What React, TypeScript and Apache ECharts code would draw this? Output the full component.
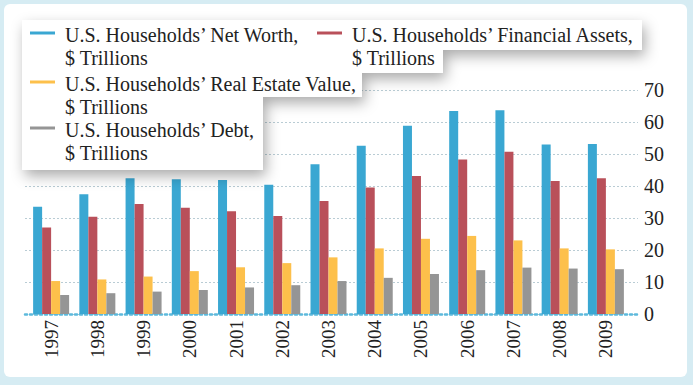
import React, { useEffect, useRef } from "react";
import * as echarts from "echarts";

const years = ["1997", "1998", "1999", "2000", "2001", "2002", "2003", "2004", "2005", "2006", "2007", "2008", "2009"];
const netWorth = [33.5, 37.4, 42.4, 42.1, 41.9, 40.4, 46.8, 52.6, 58.8, 63.4, 63.7, 53.0, 53.1];
const financialAssets = [27.0, 30.4, 34.4, 33.2, 32.1, 30.6, 35.3, 39.5, 43.1, 48.3, 50.7, 41.6, 42.4];
const realEstate = [10.3, 10.8, 11.7, 13.4, 14.6, 15.9, 17.7, 20.5, 23.5, 24.4, 23.0, 20.5, 20.2];
const debt = [5.9, 6.5, 7.0, 7.5, 8.3, 9.0, 10.3, 11.3, 12.5, 13.7, 14.5, 14.2, 14.0];
const yTicks = { min: 0, max: 70, interval: 10 };

const seriesNames = [
  "U.S. Households’ Net Worth,\n$ Trillions",
  "U.S. Households’ Financial Assets,\n$ Trillions",
  "U.S. Households’ Real Estate Value,\n$ Trillions",
  "U.S. Households’ Debt,\n$ Trillions",
];
const colors = ["#3aa7d2", "#b9505a", "#fdc04b", "#959595"];

const FONT = "'Liberation Serif', 'DejaVu Serif', serif";

export default function App() {
  const ref = useRef<HTMLDivElement>(null);
  useEffect(() => {
    if (!ref.current) return;
    const chart = echarts.init(ref.current, null, { renderer: "svg" });
    const values = [netWorth, financialAssets, realEstate, debt];
    const legendPos = [
      { mx: 30, my: 33, tx: 65, ty: 23 },
      { mx: 317, my: 33, tx: 352, ty: 23 },
      { mx: 30, my: 82, tx: 65, ty: 72 },
      { mx: 30, my: 128, tx: 65, ty: 118 },
    ];
    const legendGraphics: any[] = [
      {
        type: "polygon",
        z: 10,
        shape: {
          points: [
            [22, 20], [642, 20], [642, 50], [443, 50], [443, 73], [362, 73],
            [362, 97], [263, 97], [263, 170], [22, 170],
          ],
        },
        style: {
          fill: "#ffffff",
          shadowBlur: 14,
          shadowOffsetX: 3,
          shadowOffsetY: 6,
          shadowColor: "rgba(0,0,0,0.33)",
        },
      },
    ];
    seriesNames.forEach((name, i) => {
      const p = legendPos[i];
      legendGraphics.push({
        type: "line",
        z: 11,
        shape: { x1: p.mx, y1: p.my, x2: p.mx + 25, y2: p.my },
        style: { stroke: colors[i], lineWidth: 3 },
      });
      legendGraphics.push({
        type: "text",
        z: 11,
        x: p.tx,
        y: p.ty,
        style: {
          text: name,
          fill: "#222222",
          font: `20px ${FONT}`,
          lineHeight: 23,
          verticalAlign: "top",
          align: "left",
        },
      });
    });

    chart.setOption({
      animation: false,
      grid: [
        { left: 25, right: 55, top: 90, bottom: 71 },
        { left: 28, right: 64, top: 90, bottom: 71 },
      ],
      xAxis: [
        {
          gridIndex: 0,
          type: "value",
          min: 0,
          max: 1,
          axisLabel: { show: false },
          axisTick: { show: false },
          splitLine: { show: false },
          axisLine: { show: true, lineStyle: { color: "#5cb9dc", width: 2.5, type: [2, 3] } },
        },
        {
          gridIndex: 1,
          type: "category",
          data: years,
          axisLine: { show: false },
          axisTick: { show: false },
          axisLabel: {
            rotate: 90,
            margin: 6,
            color: "#222222",
            fontFamily: FONT,
            fontSize: 19,
          },
        },
      ],
      yAxis: [
        {
          gridIndex: 0,
          type: "value",
          position: "right",
          min: yTicks.min,
          max: yTicks.max,
          interval: yTicks.interval,
          axisLine: { show: false },
          axisTick: { show: false },
          axisLabel: { margin: 6, color: "#222222", fontFamily: FONT, fontSize: 20 },
          splitLine: { show: true, lineStyle: { color: "#b9ccd4", width: 1, type: [2, 2] } },
        },
        {
          gridIndex: 1,
          type: "value",
          min: yTicks.min,
          max: yTicks.max,
          interval: yTicks.interval,
          axisLine: { show: false },
          axisTick: { show: false },
          axisLabel: { show: false },
          splitLine: { show: false },
        },
      ],
      series: values.map((v, i) => ({
        type: "bar",
        name: seriesNames[i],
        xAxisIndex: 1,
        yAxisIndex: 1,
        data: v,
        barWidth: 9,
        barGap: "0%",
        itemStyle: { color: colors[i] },
      })),
      graphic: legendGraphics,
    });
    return () => chart.dispose();
  }, []);

  return (
    <div style={{ position: "fixed", left: 0, top: 0, width: 693, height: 385, background: "#d6ecf3" }}>
      <div
        style={{
          position: "absolute",
          left: 4,
          top: 4,
          width: 683,
          height: 373,
          background: "#ffffff",
          borderRadius: 6,
        }}
      />
      <div ref={ref} style={{ position: "absolute", left: 0, top: 0, width: 693, height: 385 }} />
    </div>
  );
}
